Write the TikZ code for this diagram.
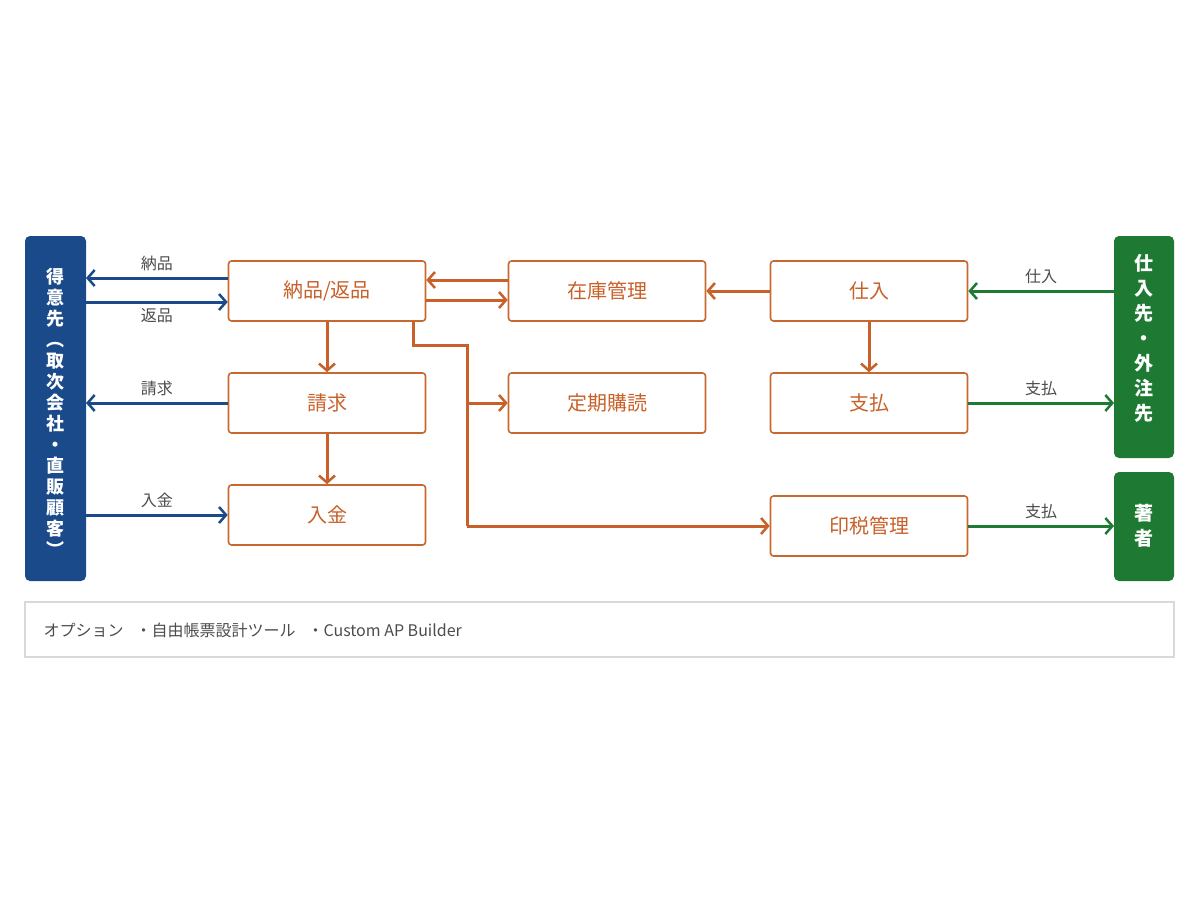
\documentclass[tikz,border=0pt]{standalone}
\usepackage{fontspec}
\setmainfont{Noto Sans CJK JP}
\usetikzlibrary{arrows.meta,positioning}
\definecolor{cblue}{HTML}{1A4A8A}
\definecolor{corange}{HTML}{C8602A}
\definecolor{cgreen}{HTML}{1E7A32}
\tikzset{
  proc/.style={draw=corange!75!brown, line width=1.6pt, rounded corners=3pt, minimum width=197pt, minimum height=60pt, text=corange, font=\fontsize{20}{22}\selectfont},
  bar/.style={text=white, align=center, inner sep=0pt},
  lbl/.style={font=\fontsize{16}{18}\selectfont, text=black!70},
  flow/.style={line width=3pt, -{Straight Barb[length=7pt,width=16pt,line width=2.5pt]}},
}
\begin{document}
\begin{tikzpicture}[x=1pt,y=-1pt]
  \useasboundingbox (0,0) rectangle (1200,900);
  % side bars
  \fill[cblue, rounded corners=5pt] (25,236) rectangle (86,581);
  \node[bar, font=\fontsize{18}{22}\selectfont\bfseries] (cust) at (55.5,412) {得\\[-1pt]意\\[-1pt]先\\[-1pt]︵\\[-1pt]取\\[-1pt]次\\[-1pt]会\\[-1pt]社\\[-1pt]・\\[-1pt]直\\[-1pt]販\\[-1pt]顧\\[-1pt]客\\[-1pt]︶};
  \fill[cgreen, rounded corners=5pt] (1114,236) rectangle (1174,458);
  \node[bar, font=\fontsize{19}{25}\selectfont\bfseries] (supp) at (1144,338) {仕\\入\\先\\・\\外\\注\\先};
  \fill[cgreen, rounded corners=5pt] (1114,472) rectangle (1174,581);
  \node[bar, font=\fontsize{19}{25}\selectfont\bfseries] (auth) at (1144,526) {著\\者};
  \coordinate (custE) at (86,0);
  \coordinate (suppW) at (1114,0);
  % process boxes
  \node[proc] (ship) at (327,291) {納品/返品};
  \node[proc] (bill) at (327,403) {請求};
  \node[proc] (pay) at (327,515) {入金};
  \node[proc] (stock) at (607,291) {在庫管理};
  \node[proc] (subs) at (607,403) {定期購読};
  \node[proc] (buy) at (869,291) {仕入};
  \node[proc] (spay) at (869,403) {支払};
  \node[proc] (roy) at (869,526) {印税管理};
  % customer side
  \draw[flow, cblue] (ship.west |- 0,278) -- node[lbl, above=2pt] {納品} (custE |- 0,278);
  \draw[flow, cblue] (custE |- 0,302) -- node[lbl, below=2pt] {返品} (ship.west |- 0,302);
  \draw[flow, cblue] (bill.west) -- node[lbl, above=2pt] {請求} (custE |- bill.west);
  \draw[flow, cblue] (custE |- pay.west) -- node[lbl, above=2pt] {入金} (pay.west);
  % internal flows
  \draw[flow, corange] (stock.west |- 0,280) -- (ship.east |- 0,280);
  \draw[flow, corange] (ship.east |- 0,300) -- (stock.west |- 0,300);
  \draw[flow, corange] (buy.west) -- (stock.east);
  \draw[flow, corange] (ship.south) -- (bill.north);
  \draw[flow, corange] (bill.south) -- (pay.north);
  \draw[flow, corange] (buy.south) -- (spay.north);
  \draw[line width=3pt, corange] (413,321) -- (413,345) -- (467,345) -- (467,526);
  \draw[flow, corange] (467,526) -- (roy.west);
  \draw[flow, corange] (467,403) -- (subs.west);
  % supplier side
  \draw[flow, cgreen] (suppW |- buy.east) -- node[lbl, above=2pt] {仕入} (buy.east);
  \draw[flow, cgreen] (spay.east) -- node[lbl, above=2pt] {支払} (suppW |- spay.east);
  \draw[flow, cgreen] (roy.east) -- node[lbl, above=2pt] {支払} (suppW |- roy.east);
  % options
  \draw[black!15, line width=2pt] (25,602) rectangle (1174,657);
  \node[lbl, anchor=west] (opt) at (40,630) {オプション\hspace{12pt}・自由帳票設計ツール\hspace{12pt}・Custom AP Builder};
\end{tikzpicture}
\end{document}
